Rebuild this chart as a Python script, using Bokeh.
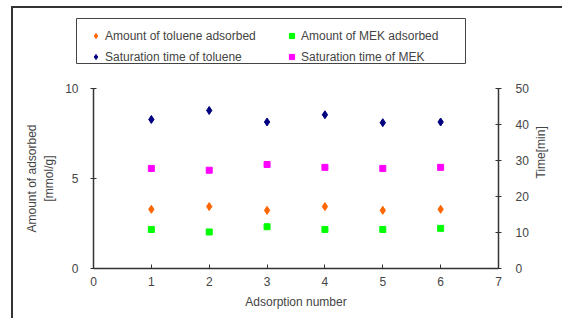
import math
from bokeh.plotting import figure
from bokeh.layouts import column
from bokeh.models import (Range1d, LinearAxis, FixedTicker, Legend, LegendItem,
                          ColumnDataSource, BoxAnnotation)
from bokeh.embed import file_html
from bokeh.resources import INLINE

runs = [1, 2, 3, 4, 5, 6]
toluene_amount = [3.29, 3.44, 3.23, 3.44, 3.23, 3.29]
mek_amount = [2.17, 2.03, 2.32, 2.17, 2.17, 2.23]
toluene_time = [41.4, 43.9, 40.7, 42.7, 40.5, 40.7]
mek_time = [27.8, 27.3, 28.9, 28.1, 27.8, 28.1]
x_ticks = [0, 1, 2, 3, 4, 5, 6, 7]
left_ticks = [0, 5, 10]
right_ticks = [0, 10, 20, 30, 40, 50]
labels = ["Amount of toluene adsorbed", "Amount of MEK adsorbed",
          "Saturation time of toluene", "Saturation time of MEK"]

FONT = "Liberation Sans"
TXT = "#444444"
AX = "#333333"

src = ColumnDataSource(dict(x=runs, ta=toluene_amount, ma=mek_amount,
                            tt=toluene_time, mt=mek_time))
styles = [("ta", "diamond", 8, "#FF6600", "default"),
          ("ma", "square", 6, "#00FF00", "default"),
          ("tt", "diamond", 8, "#000080", "time"),
          ("mt", "square", 6, "#FF00FF", "time")]

# ---------------- main chart ----------------
p = figure(width=551, height=242, output_backend="svg", toolbar_location=None,
           x_range=Range1d(0, 7), y_range=Range1d(0, 10),
           min_border_left=80, min_border_right=66, min_border_top=10,
           min_border_bottom=52)
p.frame_align = False
p.outline_line_color = None
p.grid.visible = False
p.extra_y_ranges = {"time": Range1d(0, 50)}

xa = p.xaxis[0]
xa.ticker = FixedTicker(ticks=x_ticks)
xa.axis_label = "Adsorption number"
xa.major_tick_in = 4
xa.major_tick_out = 0
xa.major_label_standoff = 8
xa.axis_label_standoff = 6

ya = p.yaxis[0]
ya.ticker = FixedTicker(ticks=left_ticks)
ya.axis_label = "Amount of adsorbed\n[mmol/g]"
ya.major_tick_in = 3
ya.major_tick_out = 3
ya.major_label_standoff = 12
ya.axis_label_standoff = 6

ra = LinearAxis(y_range_name="time", ticker=FixedTicker(ticks=right_ticks),
                axis_label="Time[min]")
ra.major_tick_in = 3
ra.major_tick_out = 3
ra.major_label_standoff = 14
ra.axis_label_standoff = 9
ra.axis_label_orientation = math.pi / 2
p.add_layout(ra, "right")

for ax in [xa, ya, ra]:
    ax.minor_tick_line_color = None
    ax.axis_line_color = AX
    ax.axis_line_width = 1.5
    ax.major_tick_line_color = AX
    ax.major_label_text_font = FONT
    ax.major_label_text_font_size = "12px"
    ax.major_label_text_color = TXT
    ax.axis_label_text_font = FONT
    ax.axis_label_text_font_size = "12px"
    ax.axis_label_text_font_style = "normal"
    ax.axis_label_text_color = TXT

for col, mk, sz, c, rng in styles:
    p.scatter("x", col, source=src, marker=mk, size=sz, color=c,
              y_range_name=rng)

# ---------------- legend strip ----------------
lf = figure(width=551, height=70, output_backend="svg", toolbar_location=None,
            x_range=Range1d(100, 101), y_range=Range1d(100, 101),
            x_axis_location=None, y_axis_location=None,
            min_border=0, min_border_left=0, min_border_right=0,
            min_border_top=0, min_border_bottom=0)
lf.frame_align = False
lf.outline_line_color = None
lf.grid.visible = False
items = []
for (col, mk, sz, c, rng), lab in zip(styles, labels):
    r = lf.scatter("x", col, source=src, marker=mk, size=sz, color=c)
    items.append(LegendItem(label=lab, renderers=[r]))

legend = Legend(items=items, location=(76, 11), orientation="horizontal",
                ncols=2)
legend.label_text_font = FONT
legend.label_text_font_size = "12px"
legend.label_text_color = TXT
legend.border_line_color = None
legend.background_fill_alpha = 0
legend.padding = 2
legend.spacing = 0
legend.glyph_width = 13
legend.glyph_height = 21
legend.label_width = 180
legend.label_height = 21
legend.label_standoff = 3
legend.margin = 0
lf.add_layout(legend, "center")

box = BoxAnnotation(left=63, right=452, top=15, bottom=60,
                    left_units="screen", right_units="screen",
                    top_units="screen", bottom_units="screen",
                    fill_alpha=0, line_color="#444444", line_alpha=1,
                    line_width=1)
lf.add_layout(box)

layout = column(lf, p, spacing=0)
layout.styles = {"margin-left": "13px", "margin-top": "8px",
                 "box-shadow": "-2px -2px 0 0 #333333"}

open("out.html", "w").write(file_html(layout, INLINE))
